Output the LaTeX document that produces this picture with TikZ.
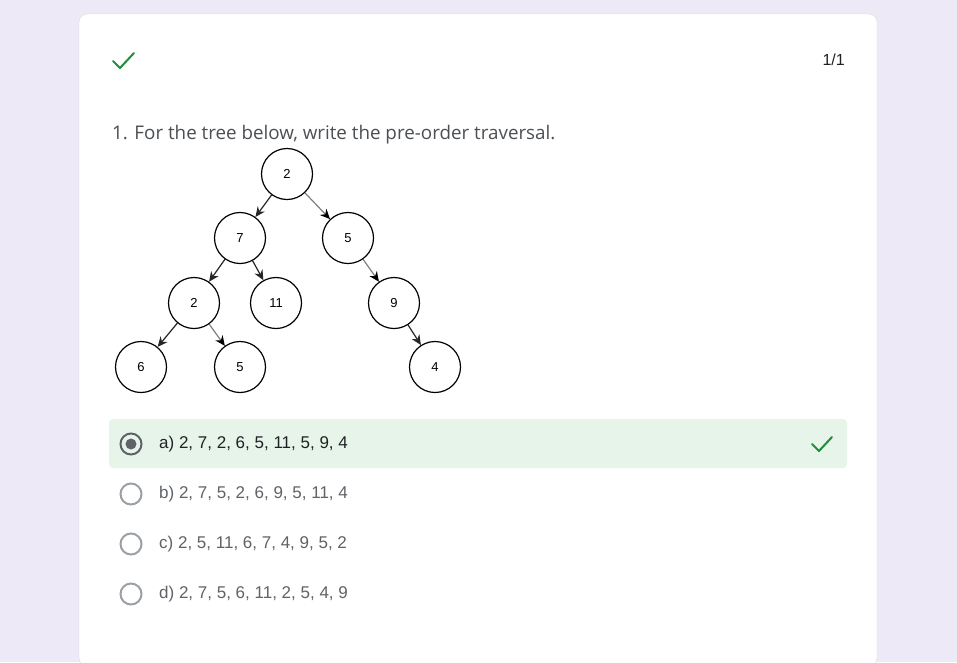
\documentclass[tikz,border=0pt]{standalone}
\usepackage{fontspec}
\setmainfont{Open Sans}
\newfontfamily\optfont{Liberation Sans}
\usepackage{tikz}
\usetikzlibrary{arrows.meta,positioning,calc}
\definecolor{pagebg}{HTML}{EDE9F7}
\definecolor{cardline}{HTML}{DADCE0}
\definecolor{okgreen}{HTML}{1E8E3E}
\definecolor{okfill}{HTML}{E6F4EA}
\definecolor{inkdark}{HTML}{202124}
\definecolor{inkgray}{HTML}{5F6368}
\definecolor{ringgray}{HTML}{9AA0A6}
\tikzset{
    treenode/.style={draw, circle, line width=1.2pt, minimum size=51pt, inner sep=0pt, font=\optfont\fontsize{13}{15}\selectfont},
    edge/.style={-{Stealth[length=10pt, width=9pt]}, line width=1.2pt, black!85},
    faintedge/.style={-{Stealth[length=10pt, width=9pt, color=black]}, line width=1.2pt, black!50},
    radio/.style={draw=ringgray, line width=2pt, circle, minimum size=21pt, inner sep=0pt},
    picked/.style={radio, draw=inkgray},
    answer/.style={anchor=west, inner sep=0pt, font=\optfont\fontsize{17}{20}\selectfont},
    tick/.style={okgreen, line width=2pt, line cap=round, line join=round}
}

\begin{document}
\begin{tikzpicture}[x=1pt, y=-1pt]
    \useasboundingbox (0,0) rectangle (957,662);
    \fill[pagebg] (0,0) rectangle (957,662);
    % card
    \filldraw[fill=white, draw=cardline, rounded corners=8pt] (79,14) rectangle (877,666);
    \draw[tick] (113,61) -- (120,68) -- (134,53);
    \node[anchor=east, inner sep=0pt, text=inkdark, font=\optfont\fontsize{16}{19}\selectfont] (score) at (845,60) {1/1};
    \node[anchor=base west, inner sep=0pt, text=inkgray!80!black, font=\fontsize{18.8}{22}\selectfont] (question) at (112,139) {1. For the tree below, write the pre-order traversal.};

    % tree
    \node[treenode] (root) at (287,174) {2};
    \node[treenode] (seven) at (240,238) {7};
    \node[treenode] (fiveR) at (348,238) {5};
    \node[treenode] (two) at (194,303) {2};
    \node[treenode] (eleven) at (276,303) {11};
    \node[treenode] (nine) at (394,303) {9};
    \node[treenode] (six) at (141,367) {6};
    \node[treenode] (fiveL) at (240,367) {5};
    \node[treenode] (four) at (435,367) {4};
    \draw[edge] (root) -- (seven);
    \draw[faintedge] (root) -- (fiveR);
    \draw[edge] (seven) -- (two);
    \draw[edge] (seven) -- (eleven);
    \draw[faintedge] (fiveR) -- (nine);
    \draw[edge] (two) -- (six);
    \draw[faintedge] (two) -- (fiveL);
    \draw[edge] (nine) -- (four);

    % options
    \fill[okfill, rounded corners=4pt] (109,419) rectangle (847,468);
    \node[picked] (optA) at (131,444) {};
    \fill[inkgray] (optA) circle (5.5pt);
    \node[answer, text=inkdark] (txtA) at (159,444) {a) 2, 7, 2, 6, 5, 11, 5, 9, 4};
    \draw[tick] (812,444) -- (819,451) -- (832,437);
    \node[radio] (optB) at (131,494) {};
    \node[answer, text=inkgray] (txtB) at (159,494) {b) 2, 7, 5, 2, 6, 9, 5, 11, 4};
    \node[radio] (optC) at (131,544) {};
    \node[answer, text=inkgray] (txtC) at (159,544) {c) 2, 5, 11, 6, 7, 4, 9, 5, 2};
    \node[radio] (optD) at (131,594) {};
    \node[answer, text=inkgray] (txtD) at (159,594) {d) 2, 7, 5, 6, 11, 2, 5, 4, 9};
\end{tikzpicture}
\end{document}
